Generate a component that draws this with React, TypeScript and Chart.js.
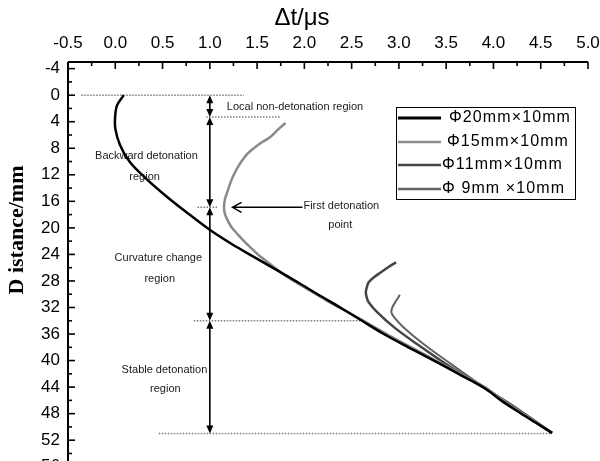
import React, { useEffect, useRef } from 'react';
import { Chart, registerables } from 'chart.js';

Chart.register(...registerables);

// ---------- data ----------
const seriesLabels = ['Φ20mm×10mm', 'Φ15mm×10mm', 'Φ11mm×10mm', 'Φ 9mm ×10mm'];
const seriesColors = ['#000000', '#8a8a8a', '#454545', '#626262'];

const phi20Depth = [0, 1.5, 3, 5, 7.5, 10, 12.5, 15, 17.5, 20.4, 22.5, 24.4, 26.3, 28.2, 30, 32, 34, 36, 38, 40, 42, 44.1, 46, 47.6, 49.3, 50.9];
const phi20Dt = [0.09, 0.02, 0.0, 0.0, 0.05, 0.15, 0.32, 0.52, 0.74, 1.01, 1.24, 1.47, 1.7, 1.93, 2.14, 2.38, 2.61, 2.84, 3.1, 3.37, 3.63, 3.9, 4.08, 4.25, 4.44, 4.62];

const phi15Depth = [4.2, 5.2, 6.3, 7.5, 8.8, 10.3, 11.8, 13.1, 14.4, 15.7, 16.9, 17.9, 18.9, 19.9, 20.9, 22.4, 23.9, 25.7, 27.4, 29.2, 31, 33.5, 36, 38, 40, 42, 44.1, 46, 47.6, 49.3, 50.9];
const phi15Dt = [1.8, 1.72, 1.64, 1.51, 1.4, 1.32, 1.26, 1.22, 1.19, 1.16, 1.15, 1.16, 1.19, 1.23, 1.29, 1.39, 1.5, 1.66, 1.82, 2.03, 2.24, 2.56, 2.87, 3.13, 3.39, 3.65, 3.92, 4.1, 4.27, 4.45, 4.62];

const phi11Depth = [25.2, 25.9, 26.7, 27.4, 28.2, 29.0, 29.7, 30.5, 31.2, 32.7, 35.0, 37.5, 41.0, 44.1, 47.3, 50.9];
const phi11Dt = [2.97, 2.89, 2.81, 2.74, 2.68, 2.66, 2.65, 2.66, 2.68, 2.77, 2.95, 3.19, 3.55, 3.9, 4.25, 4.62];

const phi9Depth = [30.1, 31.0, 32.0, 32.7, 33.5, 35.0, 37.5, 40.5, 44.1, 47.3, 50.9];
const phi9Dt = [3.01, 2.97, 2.93, 2.92, 2.95, 3.05, 3.26, 3.55, 3.91, 4.26, 4.62];

const xTickValues = [-0.5, 0, 0.5, 1, 1.5, 2, 2.5, 3, 3.5, 4, 4.5, 5];
const yTickValues = [-4, 0, 4, 8, 12, 16, 20, 24, 28, 32, 36, 40, 44, 48, 52, 56];

const xTitle = 'Δt/μs';
const yTitle = 'D istance/mm';

// region guide lines (depth, Δt from, Δt to)
const guideDepth = [0, 3.3, 16.9, 34.0, 51.0];
const guideFrom = [-0.36, 0.96, 0.87, 0.83, 0.46];
const guideTo = [1.36, 1.75, 1.08, 2.59, 4.62];
const regionArrowDt = 1.0;

// "first detonation point" arrow
const pointerDepth = 16.9;
const pointerFrom = 1.98;
const pointerTo = 1.24;

// annotation texts
const noteTexts = ['Local non-detonation region', 'Backward detonation', 'region', 'First detonation', 'point', 'Curvature change', 'region', 'Stable detonation', 'region'];
const noteDt = [1.18, 0.33, 0.31, 1.99, 2.38, 0.455, 0.47, 0.52, 0.53];
const noteDepth = [1.84, 9.2, 12.3, 16.75, 19.6, 24.6, 27.7, 41.4, 44.3];
const noteAlign = ['left', 'center', 'center', 'left', 'center', 'center', 'center', 'center', 'center'];

const toPoints = (d: number[], t: number[]) => d.map((v, i) => ({ x: t[i], y: v }));

const SANS = '"Liberation Sans", Arial, sans-serif';
const SERIF = '"Liberation Serif", "Times New Roman", serif';

const zeroPad = (s: any) => {
  s.paddingLeft = 0;
  s.paddingRight = 0;
  s.paddingTop = 0;
  s.paddingBottom = 0;
};

const decorPlugin = {
  id: 'decor',
  beforeDatasetsDraw(chart: any) {
    const { ctx } = chart;
    const xs = chart.scales.x;
    const ys = chart.scales.y;
    ctx.save();
    // dotted guide lines
    ctx.strokeStyle = '#7a7a7a';
    ctx.lineWidth = 1.5;
    ctx.setLineDash([1.5, 1.5]);
    guideDepth.forEach((d, i) => {
      const y = ys.getPixelForValue(d);
      ctx.beginPath();
      ctx.moveTo(xs.getPixelForValue(guideFrom[i]), y);
      ctx.lineTo(xs.getPixelForValue(guideTo[i]), y);
      ctx.stroke();
    });
    ctx.setLineDash([]);
    // vertical double arrows
    ctx.strokeStyle = '#000';
    ctx.fillStyle = '#000';
    ctx.lineWidth = 1.6;
    const ax = xs.getPixelForValue(regionArrowDt);
    const head = (x: number, y: number, dir: number) => {
      ctx.beginPath();
      ctx.moveTo(x, y);
      ctx.lineTo(x - 3.5, y - dir * 8);
      ctx.lineTo(x + 3.5, y - dir * 8);
      ctx.closePath();
      ctx.fill();
    };
    for (let i = 0; i < guideDepth.length - 1; i++) {
      const y1 = ys.getPixelForValue(guideDepth[i]);
      const y2 = ys.getPixelForValue(guideDepth[i + 1]);
      ctx.beginPath();
      ctx.moveTo(ax, y1 + 4);
      ctx.lineTo(ax, y2 - 4);
      ctx.stroke();
      head(ax, y1, -1);
      head(ax, y2, 1);
    }
    // pointer arrow
    const py = ys.getPixelForValue(pointerDepth);
    const p1 = xs.getPixelForValue(pointerFrom);
    const p2 = xs.getPixelForValue(pointerTo);
    ctx.lineWidth = 1.5;
    ctx.beginPath();
    ctx.moveTo(p1, py);
    ctx.lineTo(p2, py);
    ctx.moveTo(p2 + 9, py - 5);
    ctx.lineTo(p2, py);
    ctx.lineTo(p2 + 9, py + 5);
    ctx.stroke();
    // notes
    ctx.fillStyle = '#1a1a1a';
    ctx.font = `11px ${SANS}`;
    ctx.textBaseline = 'middle';
    noteTexts.forEach((t, i) => {
      ctx.textAlign = noteAlign[i] as CanvasTextAlign;
      ctx.fillText(t, xs.getPixelForValue(noteDt[i]), ys.getPixelForValue(noteDepth[i]));
    });
    ctx.restore();
  },
  afterDraw(chart: any) {
    const { ctx, chartArea } = chart;
    const xs = chart.scales.x;
    const ys = chart.scales.y;
    ctx.save();
    // axis lines
    ctx.strokeStyle = '#000';
    ctx.lineWidth = 2;
    ctx.beginPath();
    ctx.moveTo(chartArea.left, chartArea.top);
    ctx.lineTo(chartArea.right, chartArea.top);
    ctx.moveTo(chartArea.left, chartArea.top);
    ctx.lineTo(chartArea.left, chartArea.bottom);
    ctx.stroke();
    ctx.lineWidth = 1.6;
    // x ticks (major + minor)
    xTickValues.forEach((v, i) => {
      const x = xs.getPixelForValue(v);
      ctx.beginPath();
      ctx.moveTo(x, chartArea.top);
      ctx.lineTo(x, chartArea.top + 7);
      ctx.stroke();
      if (i < xTickValues.length - 1) {
        const xm = xs.getPixelForValue((v + xTickValues[i + 1]) / 2);
        ctx.beginPath();
        ctx.moveTo(xm, chartArea.top);
        ctx.lineTo(xm, chartArea.top + 4);
        ctx.stroke();
      }
    });
    // y ticks (major + minor)
    yTickValues.forEach((v, i) => {
      const y = ys.getPixelForValue(v);
      ctx.beginPath();
      ctx.moveTo(chartArea.left, y);
      ctx.lineTo(chartArea.left + 7, y);
      ctx.stroke();
      const next = i < yTickValues.length - 1 ? yTickValues[i + 1] : v + (v - yTickValues[i - 1]);
      const ym = ys.getPixelForValue((v + next) / 2);
      ctx.beginPath();
      ctx.moveTo(chartArea.left, ym);
      ctx.lineTo(chartArea.left + 4, ym);
      ctx.stroke();
    });
    // titles
    ctx.fillStyle = '#000';
    ctx.font = `24px ${SANS}`;
    ctx.textAlign = 'center';
    ctx.textBaseline = 'middle';
    ctx.fillText(xTitle, 302, 18);
    ctx.save();
    ctx.translate(17, 230);
    ctx.rotate(-Math.PI / 2);
    ctx.font = `bold 22px ${SERIF}`;
    ctx.fillText(yTitle, 0, 0);
    ctx.restore();
    // legend
    const bx = chartArea.right - 192;
    const by = 107;
    ctx.strokeStyle = '#000';
    ctx.lineWidth = 1;
    ctx.strokeRect(bx + 0.5, by + 0.5, 179, 92);
    const rowY = [118, 142, 165, 189];
    const textX = [449, 447, 442, 442];
    ctx.font = `16px ${SANS}`;
    ctx.textAlign = 'left';
    ctx.textBaseline = 'middle';
    try { (ctx as any).letterSpacing = '1.1px'; } catch (e) {}
    chart.data.datasets.forEach((ds: any, i: number) => {
      ctx.strokeStyle = ds.borderColor;
      ctx.lineWidth = i === 0 ? 3 : 2.5;
      ctx.beginPath();
      ctx.moveTo(bx + 2, rowY[i]);
      ctx.lineTo(bx + 45, rowY[i]);
      ctx.stroke();
      ctx.fillStyle = '#000';
      ctx.fillText(ds.label, textX[i] - 396 + bx, rowY[i]);
    });
    ctx.restore();
  },
};

export default function App() {
  const ref = useRef<HTMLCanvasElement>(null);
  useEffect(() => {
    if (!ref.current) return;
    const series = [
      toPoints(phi20Depth, phi20Dt),
      toPoints(phi15Depth, phi15Dt),
      toPoints(phi11Depth, phi11Dt),
      toPoints(phi9Depth, phi9Dt),
    ];
    const widths = [2.5, 2.5, 2.5, 2];
    const chart = new Chart(ref.current, {
      type: 'scatter',
      data: {
        datasets: series.map((data, i) => ({
          label: seriesLabels[i],
          data,
          showLine: true,
          borderColor: seriesColors[i],
          backgroundColor: seriesColors[i],
          borderWidth: widths[i],
          pointRadius: 0,
          tension: 0.35,
        })),
      },
      options: {
        responsive: false,
        animation: false,
        devicePixelRatio: 1,
        layout: { padding: { left: 0, right: 12, top: 0, bottom: 0 } },
        plugins: { legend: { display: false }, tooltip: { enabled: false } },
        scales: {
          x: {
            type: 'linear',
            position: 'top',
            min: -0.5,
            max: 5,
            afterBuildTicks: (s: any) => { s.ticks = xTickValues.map((v) => ({ value: v })); },
            afterFit: (s: any) => { s.height = 62; zeroPad(s); },
            grid: { display: false, drawTicks: false },
            border: { display: false },
            ticks: {
              padding: 8,
              color: '#000',
              font: { family: SANS, size: 17 },
              maxRotation: 0,
              autoSkip: false,
              callback: (v: any) => Number(v).toFixed(1),
            },
          },
          y: {
            type: 'linear',
            reverse: true,
            min: -5,
            max: 58,
            afterBuildTicks: (s: any) => { s.ticks = yTickValues.map((v) => ({ value: v })); },
            afterFit: (s: any) => { s.width = 68; zeroPad(s); },
            grid: { display: false, drawTicks: false },
            border: { display: false },
            ticks: {
              padding: 8,
              color: '#000',
              font: { family: SANS, size: 17 },
              autoSkip: false,
              callback: (v: any) => String(v),
            },
          },
        },
      },
      plugins: [decorPlugin],
    });
    return () => chart.destroy();
  }, []);
  return (
    <div style={{ position: 'fixed', left: 0, top: 0, width: 600, height: 480, background: '#fff' }}>
      <canvas ref={ref} width={600} height={480} style={{ display: 'block' }} />
    </div>
  );
}
